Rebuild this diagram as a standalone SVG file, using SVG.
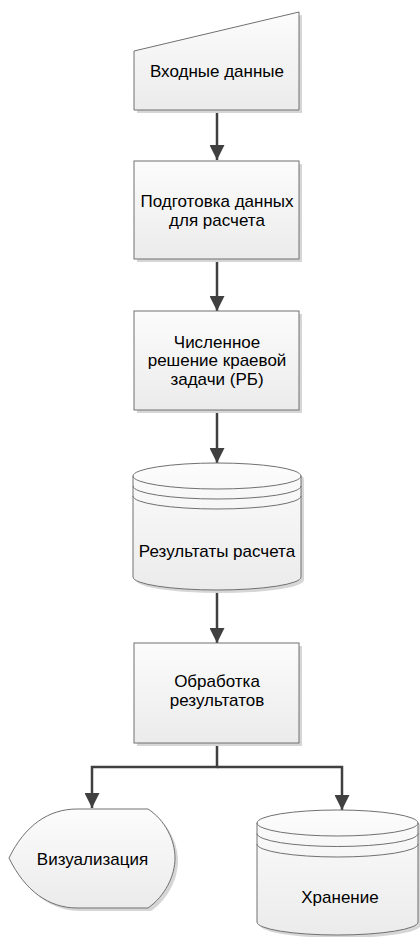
<svg xmlns="http://www.w3.org/2000/svg" width="420" height="937" viewBox="0 0 420 937">
<defs>
<linearGradient id="fill" x1="0" y1="0" x2="0" y2="1">
<stop offset="0" stop-color="#fcfcfc"/>
<stop offset="1" stop-color="#ebebeb"/>
</linearGradient>
<marker id="arrow" viewBox="0 0 15 15" refX="15" refY="7.5" markerWidth="15" markerHeight="15" markerUnits="userSpaceOnUse" orient="auto">
<path d="M0,0 L15,7.5 L0,15 Z" fill="#404040"/>
</marker>
<style>
.shape{fill:url(#fill);stroke:#707070;stroke-width:1}
.shadow{fill:#d6d6d6;stroke:none}
.line{fill:none;stroke:#707070;stroke-width:1}
.conn{fill:none;stroke:#404040;stroke-width:2.5}
text{font-family:"Liberation Sans","Open Sans",Arial,sans-serif;font-size:17px;fill:#000;text-anchor:middle}
</style>
</defs>
<rect width="420" height="937" fill="#ffffff"/>

<g id="connectors">
<path class="conn" d="M217,110 V160" marker-end="url(#arrow)"/>
<path class="conn" d="M217,259 V311" marker-end="url(#arrow)"/>
<path class="conn" d="M217,410 V463" marker-end="url(#arrow)"/>
<path class="conn" d="M217,590 V643" marker-end="url(#arrow)"/>
<path class="conn" d="M217,743 V767 H92 V808" marker-end="url(#arrow)"/>
<path class="conn" d="M217,767 H342 V810" marker-end="url(#arrow)"/>
</g>

<g id="input">
<polygon class="shadow" points="137,54 302,15 302,113 137,113"/>
<polygon class="shape" points="134,51 299,12 299,110 134,110"/>
<text x="217" y="76.5">Входные данные</text>
</g>

<g id="prepare">
<rect class="shadow" x="137" y="164" width="165" height="98"/>
<rect class="shape" x="134" y="161" width="165" height="98"/>
<text x="217" y="207">Подготовка данных</text>
<text x="217" y="225.5">для расчета</text>
</g>

<g id="solve">
<rect class="shadow" x="137" y="314" width="165" height="99"/>
<rect class="shape" x="134" y="311" width="165" height="99"/>
<text x="217" y="347.5">Численное</text>
<text x="217" y="366">решение краевой</text>
<text x="217" y="384.5">задачи (РБ)</text>
</g>

<g id="results">
<path class="shadow" d="M136,479 A84,13 0 0 1 304,479 V580 A84,13 0 0 1 136,580 Z"/>
<path class="shape" d="M133,476 A84,13 0 0 1 301,476 V577 A84,13 0 0 1 133,577 Z"/>
<path class="line" d="M133,476 A84,13 0 0 0 301,476"/>
<path class="line" d="M133,486 A84,13 0 0 0 301,486"/>
<path class="line" d="M133,496 A84,13 0 0 0 301,496"/>
<text x="217" y="557">Результаты расчета</text>
</g>

<g id="process">
<rect class="shadow" x="137" y="646" width="165" height="100"/>
<rect class="shape" x="134" y="643" width="165" height="100"/>
<text x="217" y="687">Обработка</text>
<text x="217" y="706">результатов</text>
</g>

<g id="display">
<path class="shadow" d="M12,861 C28,828 52,812 80,812 H151 C168,823 178,843 178,861 C178,879 168,899 151,911 H80 C52,911 28,894 12,861 Z"/>
<path class="shape" d="M9,858 C25,825 49,809 77,809 H148 C165,820 175,840 175,858 C175,876 165,896 148,908 H77 C49,908 25,891 9,858 Z"/>
<text x="92.5" y="865">Визуализация</text>
</g>

<g id="storage">
<path class="shadow" d="M260,826 A80.5,13 0 0 1 421,826 V925 A80.5,13 0 0 1 260,925 Z"/>
<path class="shape" d="M257,823 A80.5,13 0 0 1 418,823 V922 A80.5,13 0 0 1 257,922 Z"/>
<path class="line" d="M257,823 A80.5,13 0 0 0 418,823"/>
<path class="line" d="M257,833.5 A80.5,13 0 0 0 418,833.5"/>
<path class="line" d="M257,844 A80.5,13 0 0 0 418,844"/>
<text x="340" y="903">Хранение</text>
</g>
</svg>
